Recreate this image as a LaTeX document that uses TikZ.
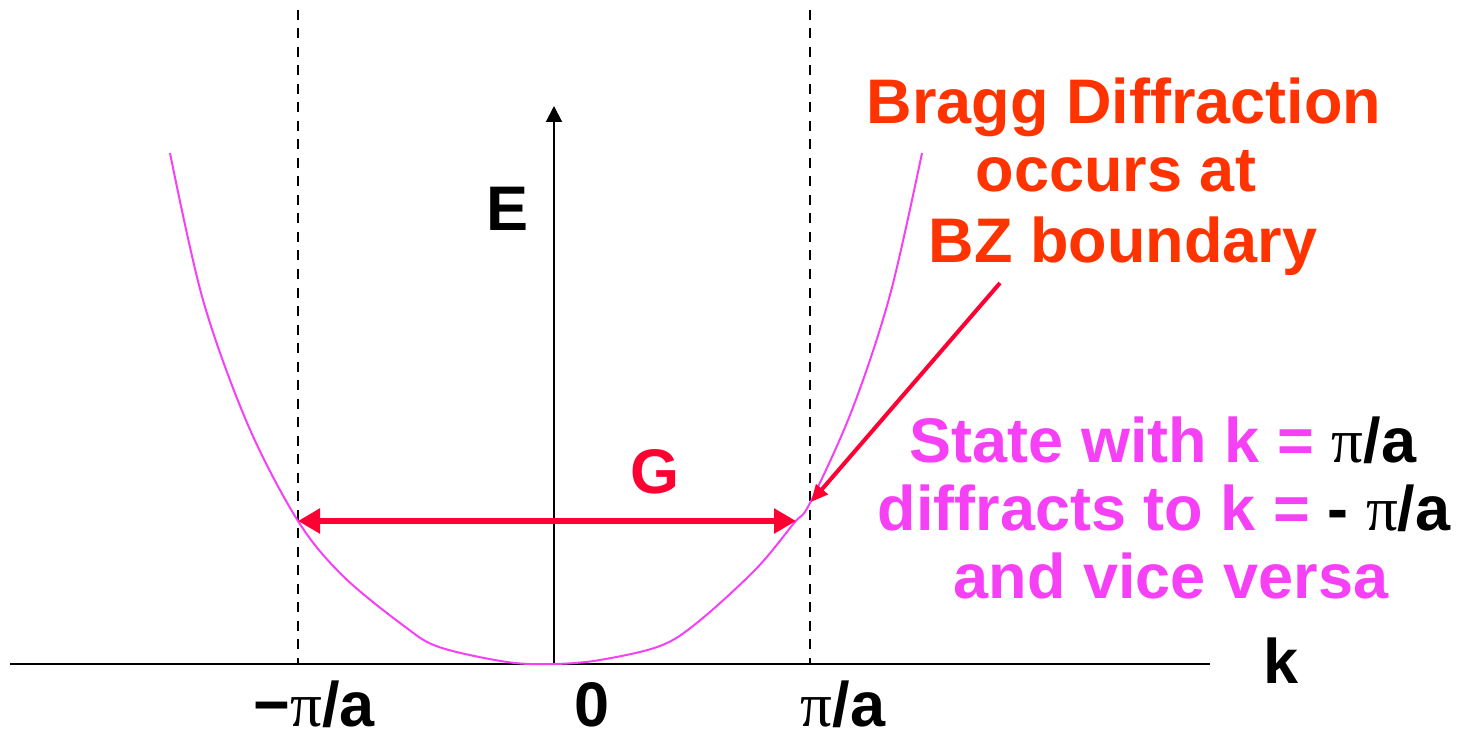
\documentclass[tikz,border=0pt]{standalone}
\usepackage{fontspec}
\setmainfont{Liberation Sans}
\newfontfamily\pifont{Liberation Serif}
\usetikzlibrary{arrows.meta}
\definecolor{braggred}{HTML}{FF3300}
\definecolor{gred}{HTML}{FF0033}
\definecolor{mag}{HTML}{F540F5}
\newcommand{\mypi}{{\pifont\mdseries π}}
\tikzset{
  lbl/.style={font=\fontsize{63}{70}\selectfont\bfseries, inner sep=0pt, anchor=base},
  axisline/.style={line width=2pt, black},
  bzline/.style={line width=2pt, black, dash pattern=on 10pt off 8.5pt},
  band/.style={line width=2pt, mag},
}
\begin{document}
\begin{tikzpicture}[x=1pt,y=-1pt]
\useasboundingbox (0,0) rectangle (1462,738);
% coordinates
\coordinate (hl) at (10,664);
\coordinate (hr) at (1210,664);
\coordinate (o) at (554,664);
\coordinate (vt) at (554,106);
\coordinate (dlt) at (298,10);
\coordinate (dlb) at (298,664);
\coordinate (drt) at (810,10);
\coordinate (drb) at (810,664);
\coordinate (gl) at (298,521);
\coordinate (gr) at (796,521);
\coordinate (ba) at (1000,283);
\coordinate (bt) at (811,502);
% axes
\draw[axisline] (hl) -- (hr);
\draw[axisline, -{Triangle[length=16pt,width=16pt]}] (o) -- (vt);
% BZ boundaries
\draw[bzline] (dlt) -- (dlb);
\draw[bzline] (drt) -- (drb);
% band
\draw[band] plot[smooth, tension=0.55] coordinates {
 (170,153) (203,300) (248,425) (298,521) (343,576) (404,626) (439,647)
 (507,662) (554,664) (600,660) (660,646) (698,622) (756,569) (794,523)
 (810,503) (852,410) (890,295) (922,153)};
% G arrow
\draw[gred, line width=6pt, {Triangle[length=22pt,width=24pt]}-{Triangle[length=22pt,width=24pt]}] (gl) -- (gr);
% Bragg arrow
\draw[gred, line width=4pt, -{Triangle[length=17pt,width=15pt]}] (ba) -- (bt);
% labels
\node[lbl] (E) at (508,231) {E};
\node[lbl, gred] (G) at (655,493) {G};
\node[lbl] (k) at (1281,683) {k};
\node[lbl] (mpa) at (314,726) {−\mypi/a};
\node[lbl] (zero) at (592,726) {0};
\node[lbl] (ppa) at (843,726) {\mypi/a};
\node[lbl, braggred] (b1) at (1124,124) {Bragg Diffraction};
\node[lbl, braggred] (b2) at (1116,192) {occurs at};
\node[lbl, braggred] (b3) at (1123,262) {BZ boundary};
\node[lbl, mag] (s1) at (1163,462) {State with k = \textcolor{black}{\mypi/a}};
\node[lbl, mag] (s2) at (1164,530) {diffracts to k = \textcolor{black}{- \mypi/a}};
\node[lbl, mag] (s3) at (1171,598) {and vice versa};
\end{tikzpicture}
\end{document}
